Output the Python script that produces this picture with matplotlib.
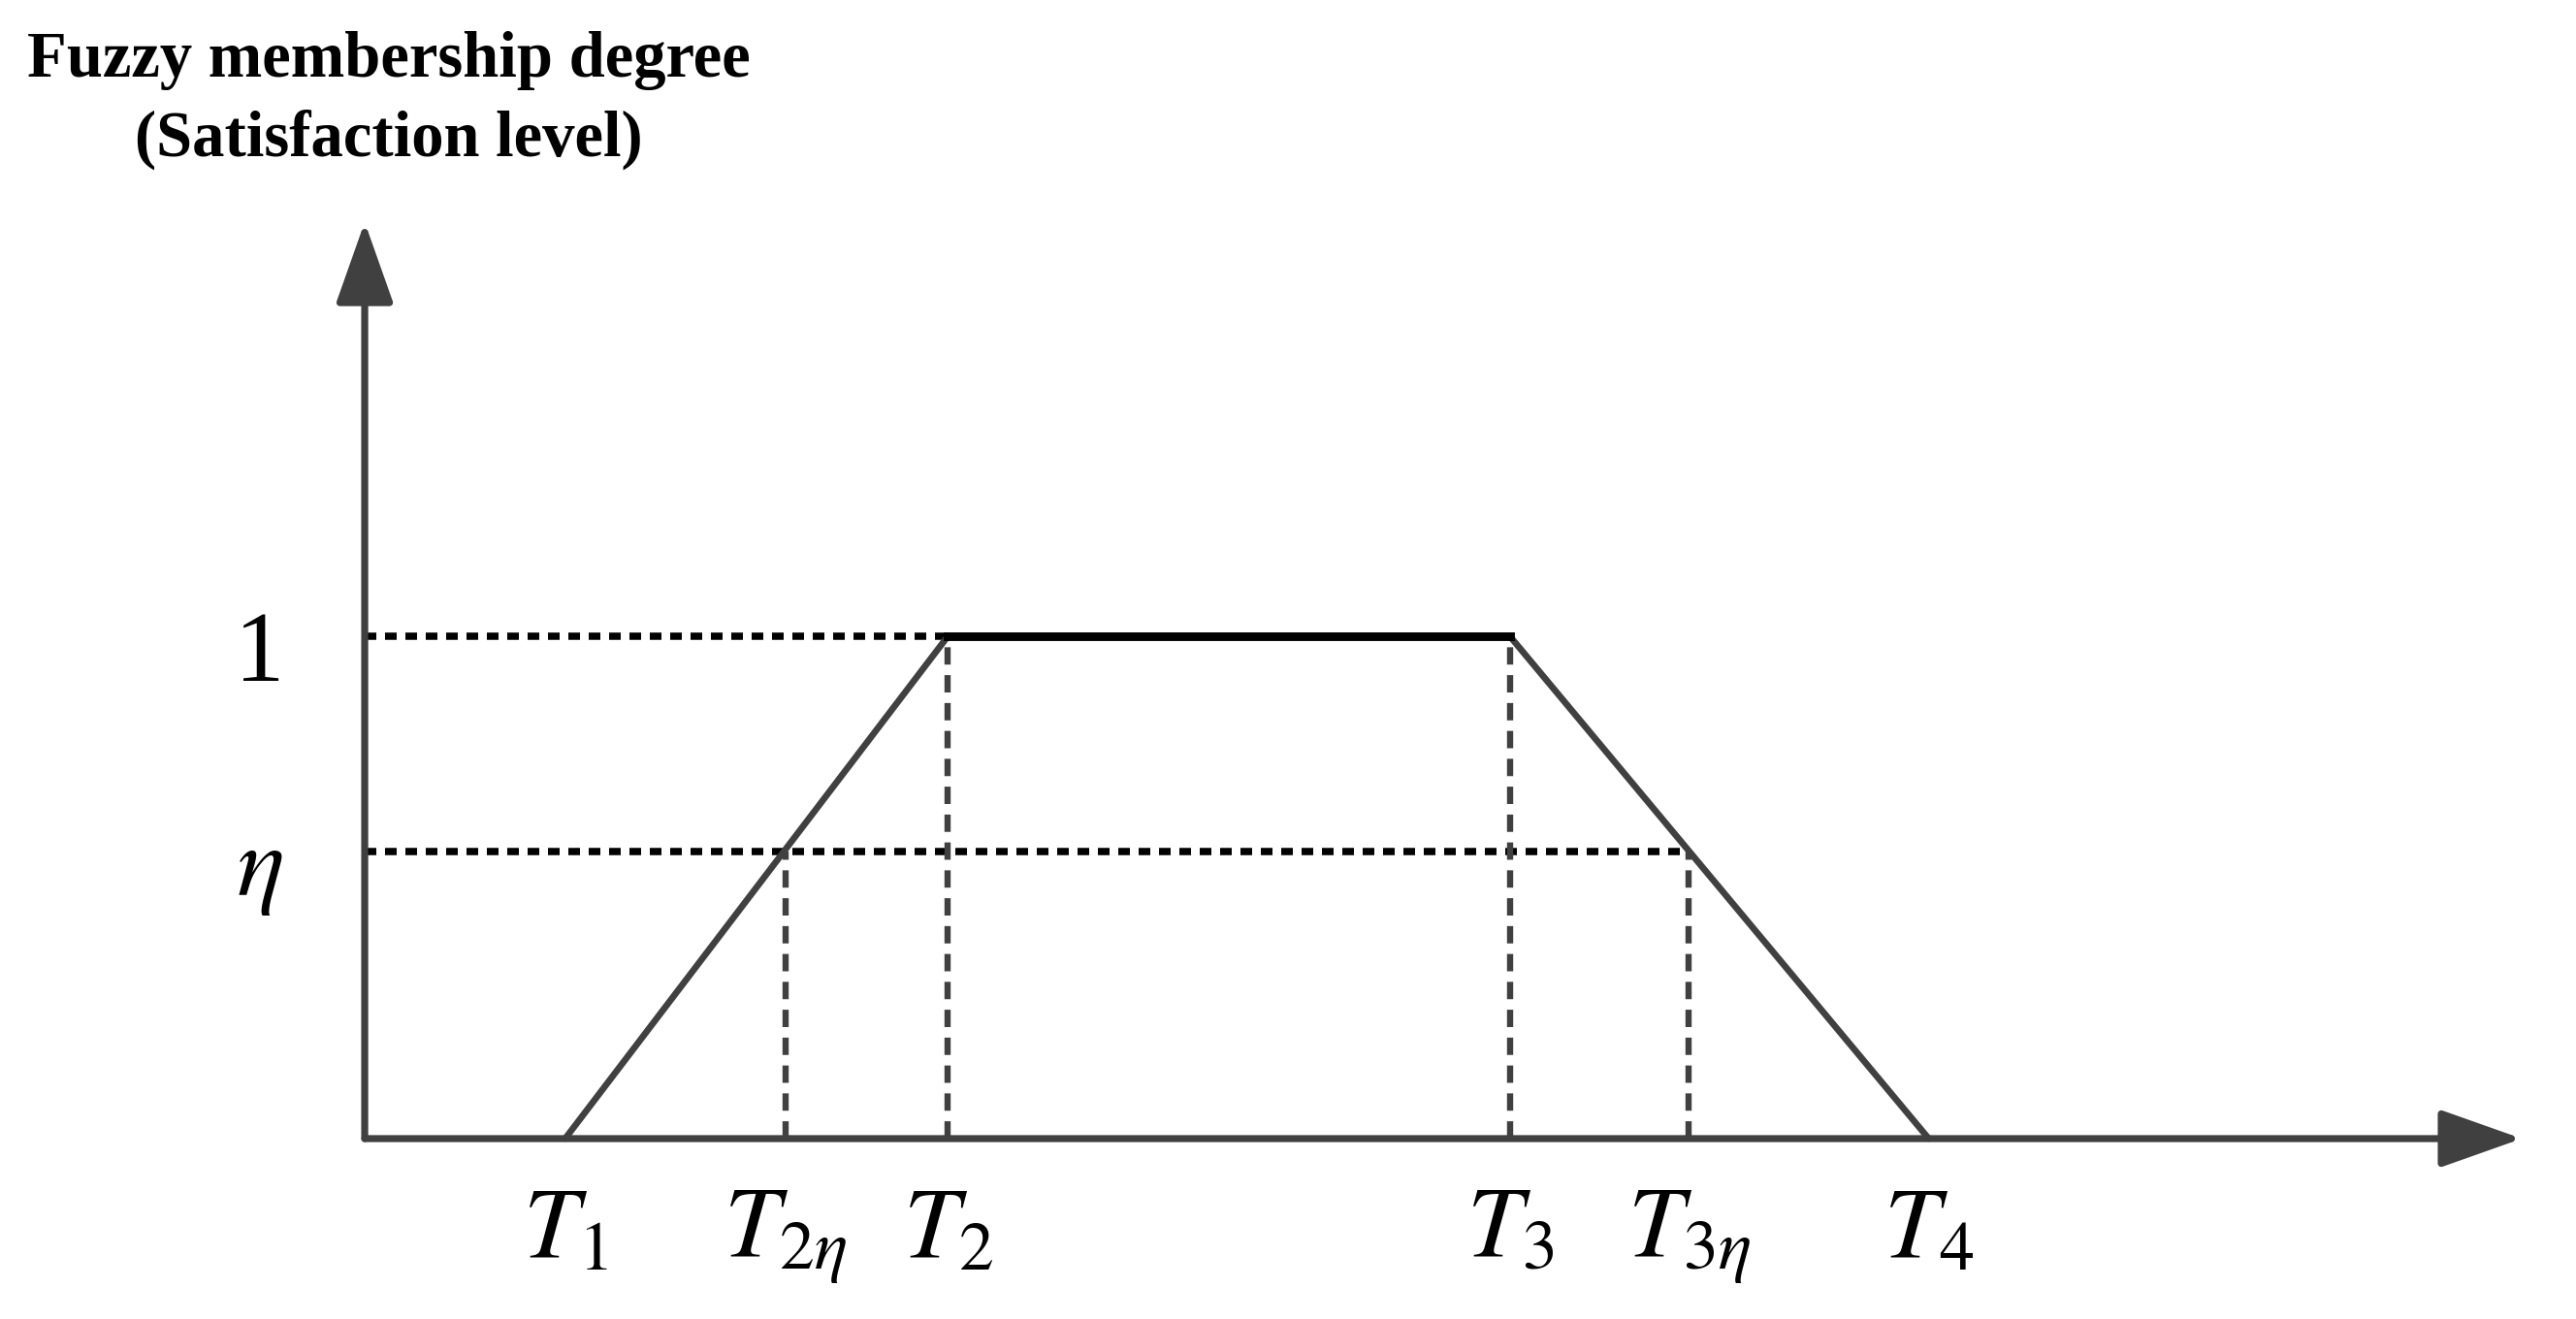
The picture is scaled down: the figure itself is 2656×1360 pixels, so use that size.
"""Trapezoidal fuzzy membership function (satisfaction level vs time)."""

import matplotlib
matplotlib.use("Agg")
import matplotlib.pyplot as plt

# ---------------------------------------------------------------------------
# Data (x in arbitrary time units)
# ---------------------------------------------------------------------------
T_NAMES = ["T1", "T2eta", "T2", "T3", "T3eta", "T4"]
T_VALUES = [1.22, 2.56, 3.55, 6.97, 8.06, 9.52]
T_LABELS = [r"$T_1$", r"$T_{2\eta}$", r"$T_2$", r"$T_3$", r"$T_{3\eta}$", r"$T_4$"]

ETA = 0.572
Y_LEVELS = [1.0, ETA]
Y_LABELS = ["1", r"$\eta$"]

X_MAX = 13.13   # end of time axis arrow
Y_MAX = 1.824   # end of membership axis arrow

TITLE_1 = "Fuzzy membership degree"
TITLE_2 = "(Satisfaction level)"

AXIS_COLOR = "#404040"

plt.rcParams["mathtext.fontset"] = "stix"

fig = plt.figure(figsize=(13.28, 6.8), dpi=200)
ax = fig.add_axes([0, 0, 1, 1])
ax.set_xlim(-2.22, 13.46)
ax.set_ylim(-0.359, 2.266)
ax.axis("off")

t = dict(zip(T_NAMES, T_VALUES))

# axes with arrow heads
arrow_kw = dict(arrowstyle="-|>,head_length=1.3,head_width=0.46",
                color=AXIS_COLOR, lw=2.6, mutation_scale=20,
                shrinkA=0, shrinkB=0)
ax.annotate("", xy=(X_MAX, 0), xytext=(0, 0), arrowprops=arrow_kw)
ax.annotate("", xy=(0, Y_MAX), xytext=(0, 0), arrowprops=arrow_kw)

# dotted horizontal guides (level 1 up to T2, eta up to T3eta)
dot_kw = dict(color="black", lw=2.7, linestyle=(0, (1.6, 1.2)), zorder=2)
ax.plot([0, t["T2"]], [Y_LEVELS[0]] * 2, **dot_kw)
ax.plot([0, t["T3eta"]], [Y_LEVELS[1]] * 2, **dot_kw)

# dashed vertical guides
dash_kw = dict(color=AXIS_COLOR, lw=2.3, linestyle=(0, (2.8, 1.7)), zorder=2)
ax.plot([t["T2eta"]] * 2, [0, ETA], **dash_kw)
ax.plot([t["T2"]] * 2, [0, 1], **dash_kw)
ax.plot([t["T3"]] * 2, [0, 1], **dash_kw)
ax.plot([t["T3eta"]] * 2, [0, ETA], **dash_kw)

# trapezoid
ax.plot([t["T1"], t["T2"]], [0, 1], color=AXIS_COLOR, lw=2.4, zorder=3,
        solid_capstyle="round")
ax.plot([t["T3"], t["T4"]], [1, 0], color=AXIS_COLOR, lw=2.4, zorder=3,
        solid_capstyle="round")
ax.plot([t["T2"], t["T3"]], [1, 1], color="black", lw=3.2, zorder=3)

# tick-like labels
for x, lab in zip(T_VALUES, T_LABELS):
    ax.text(x, -0.235, lab, ha="center", va="baseline", fontsize=37)
for y, lab in zip(Y_LEVELS, Y_LABELS):
    ax.text(-0.64, y - 0.088, lab, ha="center", va="baseline", fontsize=37,
            family="Liberation Serif")

# axis title
fig.text(0.151, 0.954, TITLE_1, ha="center", va="center", fontsize=24,
         family="Liberation Serif", weight="bold")
fig.text(0.151, 0.894, TITLE_2, ha="center", va="center", fontsize=24,
         family="Liberation Serif", weight="bold")

fig.savefig("out.png", dpi=200, facecolor="white")
